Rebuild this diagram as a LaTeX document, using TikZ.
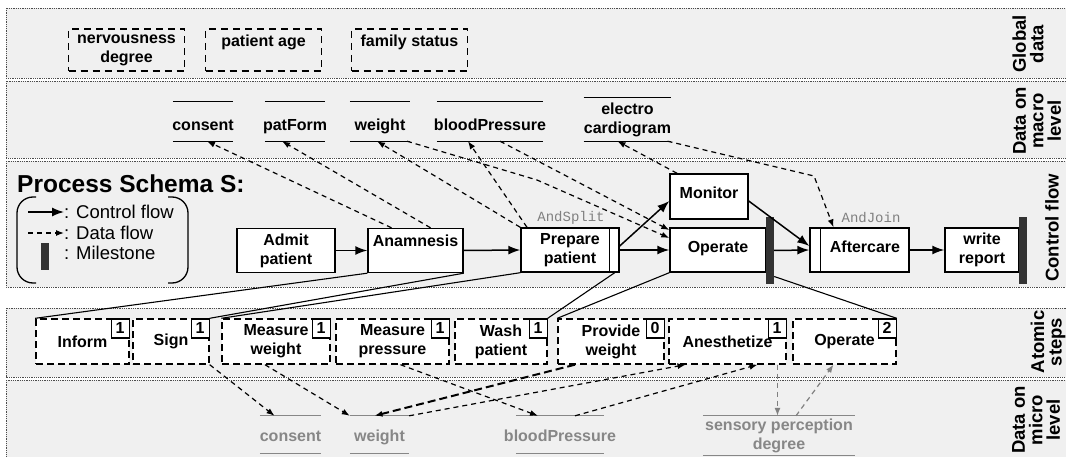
\documentclass[tikz,border=0pt]{standalone}
\usepackage{fontspec}
\setmainfont{Liberation Sans}
\setmonofont{Liberation Mono}
\usetikzlibrary{arrows.meta}

\begin{document}
\begin{tikzpicture}[>={Latex[length=12pt,width=9pt]}, x=1pt, y=-1pt,
  every node/.style={font=\bfseries\fontsize{16}{19}\selectfont, inner sep=0pt},
  band/.style={fill=black!6, draw=black!70, densely dotted, line width=0.8pt},
  lane/.style={rotate=90, align=center, font=\bfseries\fontsize{18.5}{17.5}\selectfont},
  task/.style={draw, fill=white, line width=1.4pt, minimum height=44pt, align=center},
  atom/.style={draw, fill=white, dash pattern=on 7pt off 4pt, line width=1.4pt, minimum height=45pt, align=center},
  badge/.style={draw, fill=white, line width=1.2pt, minimum width=18pt, minimum height=19pt, anchor=north east},
  gdata/.style={draw, dash pattern=on 7pt off 5pt, line width=1.4pt, minimum width=116pt, minimum height=42pt, align=center},
  datum/.style={minimum height=39pt, align=center},
  milestone/.style={fill=black!80, minimum width=8pt, minimum height=67pt},
  gate/.style={font=\ttfamily\fontsize{14}{14}\selectfont, text=black!50},
  legend/.style={font=\fontsize{18.5}{20}\selectfont, anchor=west},
  ctrl/.style={->, line width=1.5pt},
  flow/.style={-{Latex[length=8pt,width=6pt]}, dash pattern=on 5pt off 4pt, line width=1.2pt},
  gflow/.style={flow, draw=black!50},
  refine/.style={line width=1.1pt}]

\useasboundingbox (0,0) rectangle (1066,457);

% Lanes of the schema
\foreach \top/\bot in {8/78, 81/158, 161/287, 308/377, 380/470} {
  \draw [band] (6,\top) rectangle (1080,\bot);
}

\foreach \x/\y/\lab [count=\i] in {
  1028/44/{Global\\data},
  1037/121/{Data on\\macro\\level},
  1052/228/{Control flow},
  1048/342/{Atomic\\steps},
  1036/420/{Data on\\micro\\level}} {
  \node [lane] (lane\i) at (\x,\y) {\lab};
}

% Global data
\node [gdata] (nerv) at (126.5,50) {nervousness\\degree};
\node [gdata] (age) at (263.5,50) {patient age\\~};
\node [gdata] (family) at (409.5,50) {family status\\~};

% Data on macro level
\foreach \name/\x/\w/\txt in {
  mconsent/203/60/consent,
  mpatform/295/60/patForm,
  mweight/380/60/weight,
  mbp/490/106/bloodPressure} {
  \node [datum, text height=17.6pt, text depth=0pt] (\name) at (\x,121.5) {\makebox[\w pt]{\txt}};
}
\node [datum, minimum width=87pt, minimum height=43pt] (melectro) at (627.5,119.5) {electro\\cardiogram};

% Legend
\node [font=\bfseries\fontsize{24.5}{28}\selectfont, anchor=west] (title) at (17,184) {Process Schema S:};
\draw [line width=1.3pt, rounded corners=16pt] (36,197) -- (17,197) -- (17,283) -- (36,283);
\draw [line width=1.3pt, rounded corners=16pt] (168,197) -- (188,197) -- (188,283) -- (168,283);
\coordinate (lc) at (28,212);
\coordinate (ld) at (28,233);
\node [legend] (lctrl) at (64,212) {: Control flow};
\node [legend] (ldata) at (64,233) {: Data flow};
\node [legend] (lmile) at (64,253) {: Milestone};
\node [milestone, minimum height=27pt] (lms) at (44.5,256.5) {};
\draw [ctrl] (lc) -- (lctrl.west);
\draw [flow] (ld) -- (ldata.west);

% Control flow
\node [task, minimum width=98pt] (admit) at (286,250.5) {Admit\\patient};
\node [task, minimum width=95pt] (anam) at (415.5,250.5) {Anamnesis\\~};
\node [task, minimum width=98pt] (prep) at (570,250) {Prepare\\patient};
\node [task, minimum width=78pt, minimum height=45pt, text depth=7.5pt] (monitor) at (709,196.5) {Monitor};
\node [task, minimum width=96pt, text depth=6pt] (operate) at (718,250) {Operate};
\node [milestone] (ms1) at (770,250.5) {};
\node [task, minimum width=99pt, text depth=6pt] (after) at (859.5,250) {\hspace*{11pt}Aftercare};
\node [task, minimum width=74pt] (report) at (982,250) {write\\report};
\node [milestone] (ms2) at (1023,250.5) {};
\draw [line width=1.4pt] ([xshift=-10pt]prep.north east) -- ([xshift=-10pt]prep.south east);
\draw [line width=1.4pt] ([xshift=11pt]after.north west) -- ([xshift=11pt]after.south west);
\node [gate] (andsplit) at (571,218) {AndSplit};
\node [gate] (andjoin) at (871,218) {AndJoin};

\draw [ctrl] (admit.east) -- (anam.west);
\draw [ctrl] (anam.east) -- (prep.west);
\draw [ctrl] (prep.east) -- (operate.west);
\draw [ctrl] ([yshift=4pt]prep.east) -- ([yshift=-4.5pt]monitor.west);
\draw [ctrl] ([yshift=-4.5pt]monitor.east) -- ([yshift=4pt]after.west);
\draw [ctrl] (ms1.east) -- (after.west);
\draw [ctrl] (after.east) -- (report.west);

% Data flow between macro data and activities
\coordinate (bend1) at (537,180);
\coordinate (bend2) at (814,176);
\draw [flow] ([xshift=-24pt]anam.north) -- ([xshift=4pt]mconsent.south);
\draw [flow] ([xshift=15pt]anam.north) -- ([xshift=-13pt]mpatform.south);
\draw [flow] (prep.north west) -- ([xshift=-3pt]mweight.south);
\draw [flow] ([xshift=-43pt]prep.north) -- ([xshift=-22pt]mbp.south);
\draw [flow] ([xshift=27pt]mweight.south) -- (bend1) -- ([yshift=12pt]operate.west);
\draw [flow] ([xshift=10pt]mbp.south) -- ([yshift=20pt]operate.west);
\draw [flow] ([xshift=-32pt]monitor.north) -- ([xshift=-10pt]melectro.south);
\draw [flow] ([xshift=40pt]melectro.south) -- (bend2) -- ([xshift=-26pt]after.north);

% Atomic steps with their numbers
\foreach \name/\x/\w/\txt/\num in {
  inform/82.5/93/Inform/1,
  sign/171/76/Sign/1,
  mw/276/108/{Measure\\weight}/1,
  mp/392.5/113/{Measure\\pressure}/1,
  wash/501/92/{Wash\\patient}/1,
  provide/611/106/{Provide\\weight}/0,
  anest/727.5/117/Anesthetize/1,
  opat/844.5/103/Operate/2} {
  \node [atom, minimum width=\w*1pt] (\name) at (\x,341.5) {\txt};
  \node [badge] (\name-n) at (\name.north east) {\num};
}

% Refinement of activities into atomic steps
\draw [refine] (anam.south west) -- (inform.north west);
\draw [refine] (anam.south east) -- (sign.north east);
\draw [refine] (prep.south west) -- (mw.north west);
\draw [refine] ([xshift=-5pt]prep.south east) -- (wash.north east);
\draw [refine] (operate.south west) -- (provide.north west);
\draw [refine] ([yshift=-26pt]ms1.east) -- (opat.north east);

% Data on micro level
\foreach \name/\x/\w/\txt in {
  uconsent/290.5/61/consent,
  uweight/379.5/59/weight,
  ubp/560/88/bloodPressure} {
  \node [datum, minimum height=37pt, text height=14pt, text depth=0pt, text=black!47] (\name) at (\x,434.5) {\makebox[\w pt]{\txt}};
}
\node [datum, minimum width=152pt, text=black!47] (usense) at (779,435.5) {sensory perception\\degree};

\foreach \name/\col in {mconsent/black, mpatform/black, mweight/black, mbp/black, melectro/black,
  uconsent/black!47, uweight/black!47, ubp/black!47, usense/black!47} {
  \draw [line width=1.3pt, \col] (\name.north west) -- (\name.north east) (\name.south west) -- (\name.south east);
}

% Data flow between atomic steps and micro data
\draw [flow] (sign.south east) -- ([xshift=-16pt]uconsent.north);
\draw [flow] ([xshift=-11pt]mw.south) -- (uweight.north west);
\draw [flow] ([xshift=8pt]mp.south) -- ([xshift=-22pt]ubp.north);
\draw [flow, line width=2pt, dash pattern=on 8pt off 4pt] ([xshift=-36pt]provide.south) -- ([xshift=-5pt]uweight.north);
\draw [flow] (uweight.north east) -- ([xshift=-42pt]anest.south);
\draw [flow] ([xshift=15pt]ubp.north) -- ([xshift=30pt]anest.south);
\draw [gflow] ([xshift=50pt]anest.south) -- ([xshift=50pt]anest.south |- usense.north);
\draw [gflow] ([xshift=17pt]usense.north) -- ([xshift=-11pt]opat.south);

\end{tikzpicture}
\end{document}
